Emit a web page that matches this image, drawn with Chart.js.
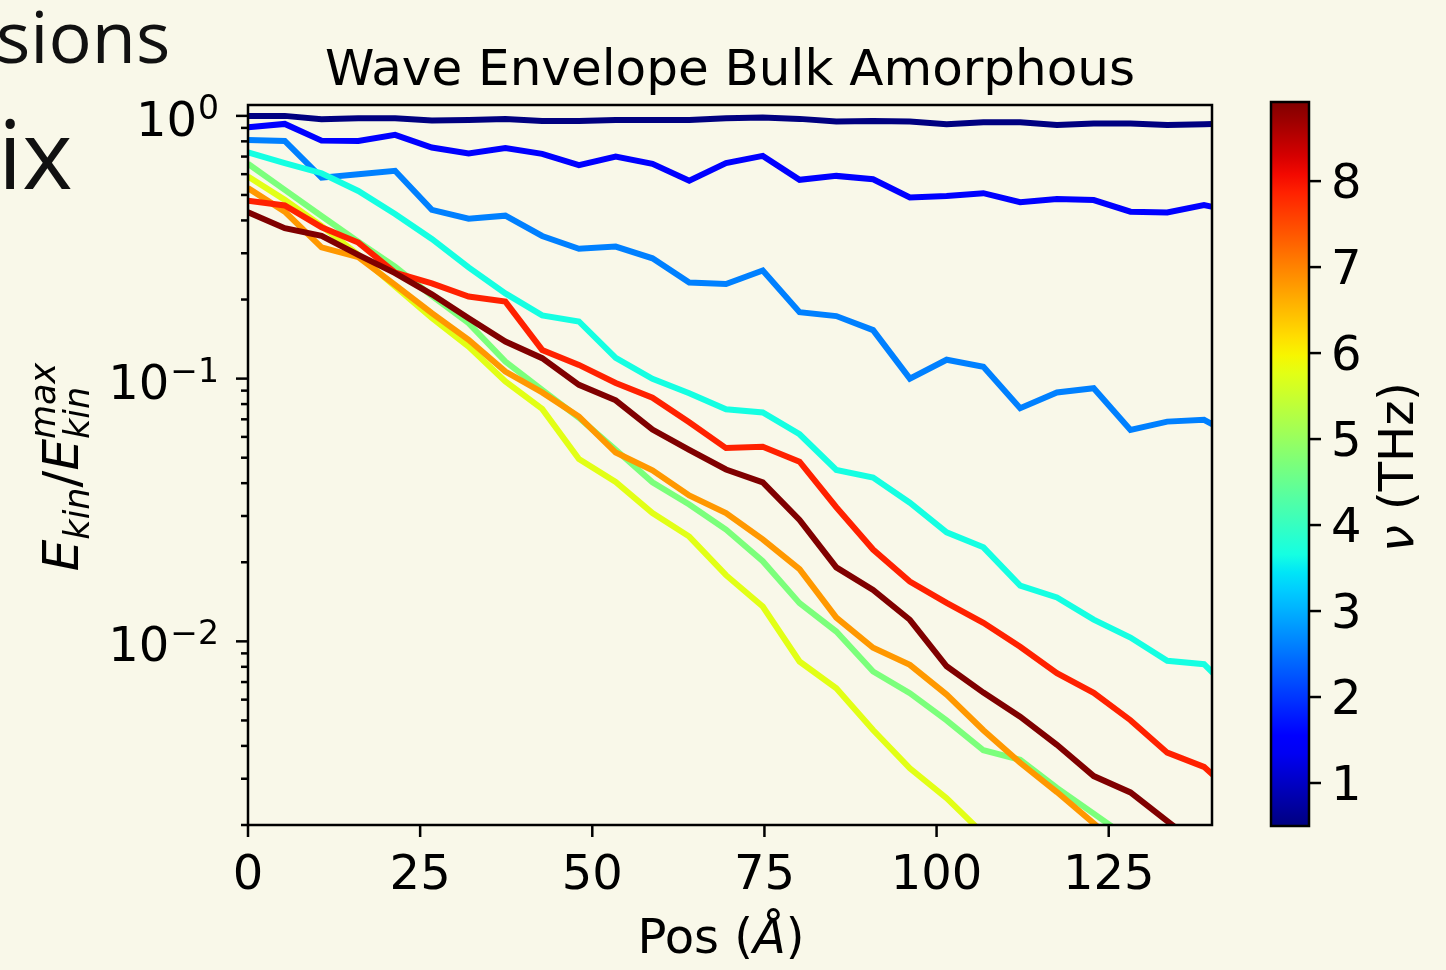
<!DOCTYPE html>
<html>
<head>
<meta charset="utf-8">
<script src="https://cdn.jsdelivr.net/npm/chart.js@4.4.0/dist/chart.umd.min.js"></script>
<style>
  html, body { margin: 0; padding: 0; background: #f9f8e9; }
  body { width: 1446px; height: 970px; position: relative; overflow: hidden; }
  canvas { position: absolute; top: 0; }
  #graph { left: 0; }
  #cbar { left: 1250px; }
  .slide { position: absolute; font-family: "Open Sans", sans-serif; color: #111; line-height: 1; white-space: nowrap; }
</style>
</head>
<body>
<div class="slide" style="left:-4px; top:-1px; font-size:72px;">sions</div>
<div class="slide" style="left:-2px; top:104px; font-size:96px;">ix</div>
<canvas id="graph" width="1250" height="970"></canvas>
<canvas id="cbar" width="196" height="970"></canvas>
<script>
// positions along the sample (Angstrom)
const posA = [0, 5.34, 10.68, 16.02, 21.36, 26.7, 32.04, 37.38, 42.72, 48.06, 53.4, 58.74, 64.08, 69.42,
  74.76, 80.1, 85.44, 90.78, 96.12, 101.46, 106.8, 112.14, 117.48, 122.82, 128.16, 133.5, 138.84, 144.18];

// frequency of each wave packet (THz), lowest first
const freqTHz = [0.5, 1.55, 2.61, 3.66, 4.71, 5.76, 6.81, 7.87, 8.92];

// E_kin / E_kin^max for each frequency
const env1 = [1.00, 1.00, 0.971, 0.98, 0.98, 0.960, 0.965, 0.974, 0.957, 0.957, 0.965, 0.965, 0.965, 0.98,
  0.985, 0.974, 0.951, 0.957, 0.951, 0.930, 0.946, 0.946, 0.924, 0.935, 0.935, 0.924, 0.930, 0.935];
const env2 = [0.906, 0.932, 0.805, 0.803, 0.847, 0.758, 0.719, 0.754, 0.717, 0.649, 0.700, 0.657, 0.567, 0.661,
  0.704, 0.571, 0.591, 0.574, 0.489, 0.496, 0.508, 0.469, 0.483, 0.478, 0.432, 0.429, 0.458, 0.427];
const env3 = [0.810, 0.803, 0.582, 0.600, 0.618, 0.439, 0.406, 0.417, 0.349, 0.312, 0.318, 0.287, 0.232, 0.229,
  0.258, 0.179, 0.173, 0.153, 0.100, 0.118, 0.111, 0.0772, 0.0885, 0.0919, 0.0638, 0.0686, 0.0697, 0.0585];
const env4 = [0.727, 0.661, 0.605, 0.518, 0.423, 0.340, 0.265, 0.211, 0.174, 0.165, 0.120, 0.0998, 0.0880, 0.0765,
  0.0743, 0.0614, 0.0449, 0.0420, 0.0337, 0.0260, 0.0228, 0.0163, 0.0147, 0.0121, 0.01034, 0.00843, 0.00819, 0.00594];
const env5 = [0.657, 0.523, 0.416, 0.332, 0.267, 0.2065, 0.1626, 0.1161, 0.0906, 0.0709, 0.0536, 0.0403, 0.0332, 0.02664,
  0.02019, 0.01398, 0.0109, 0.00768, 0.00635, 0.0050, 0.00385, 0.00354, 0.00277, 0.00221, 0.00176, 0.00141, 0.00113, 0.00091];
const env6 = [0.5875, 0.479, 0.381, 0.2958, 0.224, 0.1703, 0.1324, 0.0975, 0.0767, 0.0494, 0.0404, 0.0308, 0.02505, 0.01786,
  0.01357, 0.00838, 0.00663, 0.0046, 0.00329, 0.00253, 0.00185, 0.00135, 0.00104, 0.0008, 0.00061, 0.00047, 0.00036, 0.00028];
const env7 = [0.531, 0.432, 0.316, 0.290, 0.2274, 0.1774, 0.1405, 0.1064, 0.0886, 0.0717, 0.0523, 0.0448, 0.0359, 0.0308,
  0.02444, 0.01883, 0.01232, 0.00945, 0.00814, 0.00627, 0.00459, 0.00345, 0.00267, 0.00203, 0.00154, 0.00118, 0.00091, 0.0007];
const env8 = [0.475, 0.456, 0.377, 0.3295, 0.2533, 0.2304, 0.2053, 0.1964, 0.1286, 0.1128, 0.0963, 0.0846, 0.0682, 0.0544,
  0.0550, 0.0483, 0.0324, 0.02235, 0.01689, 0.01401, 0.01176, 0.00953, 0.00756, 0.00637, 0.00501, 0.00377, 0.00333, 0.00249];
const env9 = [0.430, 0.3737, 0.3494, 0.2958, 0.252, 0.2093, 0.1698, 0.1384, 0.1196, 0.0947, 0.0827, 0.0640, 0.0536, 0.0451,
  0.0403, 0.0290, 0.01912, 0.0157, 0.01208, 0.00804, 0.00638, 0.00517, 0.00404, 0.00307, 0.00266, 0.00207, 0.00161, 0.00124];
const envelopes = [env1, env2, env3, env4, env5, env6, env7, env8, env9];

// axis ticks
const xTicks = [0, 25, 50, 75, 100, 125];
const yMajor = [0.01, 0.1, 1];
const yMajorExp = ['\u22122', '\u22121', '0'];
const yMinor = [0.002, 0.003, 0.004, 0.005, 0.006, 0.007, 0.008, 0.009,
  0.02, 0.03, 0.04, 0.05, 0.06, 0.07, 0.08, 0.09,
  0.2, 0.3, 0.4, 0.5, 0.6, 0.7, 0.8, 0.9];
const cbTicks = [1, 2, 3, 4, 5, 6, 7, 8];
const cbMin = 0.5, cbMax = 8.92;

const FONT = '"DejaVu Sans", sans-serif';

// matplotlib jet colormap
function jet(t) {
  function seg(pts) {
    for (let i = 1; i < pts.length; i++) {
      if (t <= pts[i][0]) {
        let a = pts[i - 1], b = pts[i];
        return a[1] + (b[1] - a[1]) * (t - a[0]) / (b[0] - a[0]);
      }
    }
    return pts[pts.length - 1][1];
  }
  let r = seg([[0, 0], [0.35, 0], [0.66, 1], [0.89, 1], [1, 0.5]]);
  let g = seg([[0, 0], [0.125, 0], [0.375, 1], [0.64, 1], [0.91, 0], [1, 0]]);
  let b = seg([[0, 0.5], [0.11, 1], [0.34, 1], [0.65, 0], [1, 0]]);
  return 'rgb(' + Math.round(r * 255) + ',' + Math.round(g * 255) + ',' + Math.round(b * 255) + ')';
}

const fLo = freqTHz[0], fHi = freqTHz[freqTHz.length - 1];

let datasets = [];
for (let k = 0; k < envelopes.length; k++) {
  datasets.push({
    label: freqTHz[k] + ' THz',
    data: posA.map((x, i) => ({ x: x, y: envelopes[k][i] })),
    borderColor: jet((freqTHz[k] - fLo) / (fHi - fLo)),
    backgroundColor: 'transparent',
    borderWidth: 6,
    pointRadius: 0,
    fill: false,
    tension: 0,
    clip: 0,
    order: envelopes.length - 1 - k // later (higher) frequencies on top
  });
}

// frame, ticks, labels and titles of the main plot
const mainDecor = {
  id: 'mainDecor',
  afterDraw(chart) {
    const ctx = chart.ctx, a = chart.chartArea, xs = chart.scales.x, ys = chart.scales.y;
    ctx.save();
    ctx.strokeStyle = '#000';
    ctx.fillStyle = '#000';
    ctx.lineWidth = 2.5;
    ctx.strokeRect(a.left, a.top, a.right - a.left, a.bottom - a.top);

    // x ticks
    ctx.font = '48px ' + FONT;
    ctx.textAlign = 'center';
    ctx.textBaseline = 'alphabetic';
    xTicks.forEach(v => {
      let px = xs.getPixelForValue(v);
      ctx.beginPath(); ctx.moveTo(px, a.bottom); ctx.lineTo(px, a.bottom + 12); ctx.stroke();
      ctx.fillText(String(v), px, a.bottom + 64);
    });

    // y ticks
    yMinor.forEach(v => {
      let py = ys.getPixelForValue(v);
      ctx.beginPath(); ctx.moveTo(a.left, py); ctx.lineTo(a.left - 7, py); ctx.stroke();
    });
    ctx.textAlign = 'right';
    yMajor.forEach((v, i) => {
      let py = ys.getPixelForValue(v);
      ctx.beginPath(); ctx.moveTo(a.left, py); ctx.lineTo(a.left - 12, py); ctx.stroke();
      let right = a.left - 29;
      ctx.font = '33px ' + FONT;
      let sw = ctx.measureText(yMajorExp[i]).width;
      ctx.fillText(yMajorExp[i], right, py + 3);
      ctx.font = '48px ' + FONT;
      ctx.fillText('10', right - sw - 1, py + 20);
    });

    // title
    ctx.textAlign = 'center';
    ctx.font = '50px ' + FONT;
    ctx.fillText('Wave Envelope Bulk Amorphous', (a.left + a.right) / 2, a.top - 20);

    // x label: Pos (Å)
    ctx.textAlign = 'left';
    ctx.font = '48px ' + FONT;
    let w1 = ctx.measureText('Pos (').width, w3 = ctx.measureText(')').width;
    ctx.font = 'italic 48px ' + FONT;
    let w2 = ctx.measureText('\u00C5').width;
    let sx = 721 - (w1 + w2 + w3) / 2, base = a.bottom + 128;
    ctx.font = '48px ' + FONT;
    ctx.fillText('Pos (', sx, base);
    ctx.font = 'italic 48px ' + FONT;
    ctx.fillText('\u00C5', sx + w1, base);
    ctx.font = '48px ' + FONT;
    ctx.fillText(')', sx + w1 + w2, base);

    // y label: E_kin / E_kin^max, rotated
    ctx.translate(78, (a.top + a.bottom) / 2 + 2);
    ctx.rotate(-Math.PI / 2);
    const big = 'italic 50px ' + FONT, small = 'italic 35px ' + FONT, up = '50px ' + FONT;
    const mw = (f, t) => { ctx.font = f; return ctx.measureText(t).width; };
    let wE = mw(big, 'E'), wk = mw(small, 'kin'), ws = mw(up, '/'), wm = mw(small, 'max');
    let total = wE + wk + ws + wE + Math.max(wk, wm);
    let xx = -total / 2;
    ctx.font = big; ctx.fillText('E', xx, 0); xx += wE;
    ctx.font = small; ctx.fillText('kin', xx, 11); xx += wk;
    ctx.font = up; ctx.fillText('/', xx, 0); xx += ws;
    ctx.font = big; ctx.fillText('E', xx, 0); xx += wE;
    ctx.font = small; ctx.fillText('kin', xx, 11); ctx.fillText('max', xx, -23);
    ctx.restore();
  }
};

new Chart(document.getElementById('graph'), {
  type: 'line',
  data: { datasets: datasets },
  options: {
    responsive: false,
    animation: false,
    layout: { padding: { top: 105, right: 38, left: 0, bottom: 0 } },
    plugins: { legend: { display: false }, tooltip: { enabled: false } },
    scales: {
      x: {
        type: 'linear', min: 0, max: 140,
        ticks: { display: false }, grid: { display: false }, border: { display: false },
        afterFit: s => { s.height = 145; }
      },
      y: {
        type: 'logarithmic', min: 0.002, max: 1.1,
        ticks: { display: false }, grid: { display: false }, border: { display: false },
        afterFit: s => { s.width = 248; }
      }
    }
  },
  plugins: [mainDecor]
});

// colorbar
function jetGradient(chart) {
  const a = chart.chartArea;
  if (!a) return 'rgb(0,0,128)';
  const g = chart.ctx.createLinearGradient(0, a.bottom, 0, a.top);
  for (let i = 0; i <= 40; i++) g.addColorStop(i / 40, jet(i / 40));
  return g;
}

const cbarDecor = {
  id: 'cbarDecor',
  afterDraw(chart) {
    const ctx = chart.ctx, a = chart.chartArea, ys = chart.scales.y;
    ctx.save();
    ctx.strokeStyle = '#000';
    ctx.fillStyle = '#000';
    ctx.lineWidth = 2.5;
    ctx.strokeRect(a.left, a.top, a.right - a.left, a.bottom - a.top);
    ctx.font = '48px ' + FONT;
    ctx.textAlign = 'left';
    ctx.textBaseline = 'alphabetic';
    cbTicks.forEach(v => {
      let py = ys.getPixelForValue(v);
      ctx.beginPath(); ctx.moveTo(a.right, py); ctx.lineTo(a.right + 12, py); ctx.stroke();
      ctx.fillText(String(v), a.right + 22, py + 17);
    });
    // label: ν (THz)
    ctx.translate(163, (a.top + a.bottom) / 2 + 3);
    ctx.rotate(-Math.PI / 2);
    ctx.font = 'italic 48px ' + FONT;
    let wn = ctx.measureText('\u03BD').width;
    ctx.font = '48px ' + FONT;
    let wr = ctx.measureText(' (THz)').width;
    let x0 = -(wn + wr) / 2;
    ctx.font = 'italic 48px ' + FONT;
    ctx.fillText('\u03BD', x0, 0);
    ctx.font = '48px ' + FONT;
    ctx.fillText(' (THz)', x0 + wn, 0);
    ctx.restore();
  }
};

new Chart(document.getElementById('cbar'), {
  type: 'bar',
  data: {
    labels: [''],
    datasets: [{
      data: [[cbMin, cbMax]],
      backgroundColor: c => jetGradient(c.chart),
      borderWidth: 0,
      barPercentage: 1,
      categoryPercentage: 1
    }]
  },
  options: {
    responsive: false,
    animation: false,
    layout: { padding: { left: 21, top: 102, bottom: 144, right: 0 } },
    plugins: { legend: { display: false }, tooltip: { enabled: false } },
    scales: {
      x: { display: false },
      y: {
        position: 'right', min: cbMin, max: cbMax,
        ticks: { display: false }, grid: { display: false }, border: { display: false },
        afterFit: s => { s.width = 137; }
      }
    }
  },
  plugins: [cbarDecor]
});
</script>
</body>
</html>
